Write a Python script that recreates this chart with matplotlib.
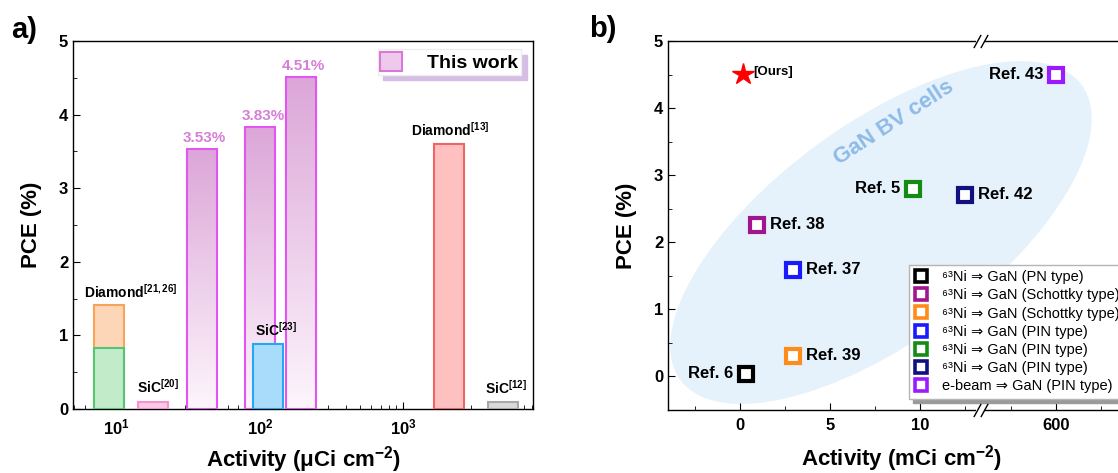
import numpy as np
import matplotlib
matplotlib.use("Agg")
import matplotlib.pyplot as plt
import matplotlib.transforms as mtransforms
from matplotlib.colors import LinearSegmentedColormap
from matplotlib.patches import Patch, Ellipse
from matplotlib.lines import Line2D
from matplotlib.ticker import FixedLocator, MultipleLocator, FuncFormatter

plt.rcParams['font.family'] = ['Liberation Sans', 'DejaVu Sans']
plt.rcParams['mathtext.fontset'] = 'custom'
plt.rcParams['mathtext.rm'] = 'Liberation Sans'
plt.rcParams['mathtext.bf'] = 'Liberation Sans:bold'
plt.rcParams['mathtext.it'] = 'Liberation Sans:italic'
plt.rcParams['mathtext.fallback'] = 'stixsans'
plt.rcParams['axes.linewidth'] = 1.0

#---------------------------------------------- Panel a data (uCi cm^-2, %) --------------------------------------------
work_act = [39.4, 100.7, 193.6]
work_pce = [3.53, 3.83, 4.51]

ref_act = [8.8, 8.8, 17.9, 114, 2100, 5000]
ref_pce = [1.41, 0.83, 0.10, 0.88, 3.60, 0.09]
ref_text = [r'Diamond$^{\mathbf{[21,26]}}$', '', r'SiC$^{\mathbf{[20]}}$', r'SiC$^{\mathbf{[23]}}$',
            r'Diamond$^{\mathbf{[13]}}$', r'SiC$^{\mathbf{[12]}}$']
ref_face = ['#fdd6b8', '#c2ecc9', '#fbc9e9', '#a9dcfb', '#ffc0c0', '#d9d9d9']
ref_edge = ['#f7a45a', '#55c575', '#f394cc', '#22a9f2', '#f26464', '#a8a8a8']
ref_txt_off = [(16, 3), (0, 0), (4, 4), (6, 4), (1, 4), (2, 4)]

a_yticks = [0, 1, 2, 3, 4, 5]

#---------------------------------------------- Panel b data (mCi cm^-2, %) --------------------------------------------
b_names = ['Ref. 6', 'Ref. 38', 'Ref. 39', 'Ref. 37', 'Ref. 5', 'Ref. 42', 'Ref. 43']
b_act = [0.34, 0.95, 2.96, 2.96, 9.6, 12.5, 600]
b_pce = [0.04, 2.26, 0.31, 1.59, 2.80, 2.71, 4.50]
b_legend = ['⁶³Ni ⇒ GaN (PN type)', '⁶³Ni ⇒ GaN (Schottky type)', '⁶³Ni ⇒ GaN (Schottky type)',
            '⁶³Ni ⇒ GaN (PIN type)', '⁶³Ni ⇒ GaN (PIN type)', '⁶³Ni ⇒ GaN (PIN type)',
            'e-beam ⇒ GaN (PIN type)']
b_colors = ['#000000', '#a0168f', '#ff8c1a', '#1a1aff', '#148c14', '#10107f', '#9b1bff']
b_left = [True, False, False, False, True, False, True]

ours_act = 0.17
ours_pce = 4.51

b_xticks = [0, 5, 10, 600]
b_xminor = [-2.5, 2.5, 7.5, 12.5, 597.5, 602.5]
b_yticks = [0, 1, 2, 3, 4, 5]

# broken x axis of panel b: values between B1 and B2 are cut out
B1, B2 = 13.33, 595.8


def fwd(x):
    x = np.asarray(x, dtype=float)
    return np.where(x <= B1, x, np.where(x >= B2, x - (B2 - B1), B1))


def inv(u):
    u = np.asarray(u, dtype=float)
    return np.where(u <= B1, u, u + (B2 - B1))


#------------------------------------------------------ Figure ---------------------------------------------------------
W, H = 1118, 473
fig = plt.figure(figsize=(W / 100, H / 100), dpi=100)
axA = fig.add_axes([73 / W, 64 / H, 460 / W, 368 / H])
axB = fig.add_axes([668 / W, 63 / H, 467 / W, 369 / H])

fig.text(24 / W, 1 - 30 / H, 'a)', fontsize=21, fontweight='bold', ha='center', va='center')
fig.text(603 / W, 1 - 29 / H, 'b)', fontsize=21, fontweight='bold', ha='center', va='center')

#------------------------------------------------------ Panel a --------------------------------------------------------
axA.set_xscale('log')
half = 10 ** 0.105  # half bar width in decades

grad = np.linspace(0, 1, 256).reshape(-1, 1)
cmap_work = LinearSegmentedColormap.from_list('work', ['#fdf5fc', '#dca6d8'])
for x, h in zip(work_act, work_pce):
    x0, x1 = x / half, x * half
    axA.imshow(grad, extent=[x0, x1, 0, h], origin='lower', cmap=cmap_work, aspect='auto', zorder=2)
    axA.bar(x0, h, width=x1 - x0, align='edge', facecolor='none', edgecolor='#e354f2', lw=1.5, zorder=3)
    axA.annotate(f'{h:.2f}%', (x, h), xytext=(2, 8), textcoords='offset points', ha='center', va='center',
                 fontsize=11, color='#d77ed6', fontweight='bold')

for x, h, t, fc, ec, off in zip(ref_act, ref_pce, ref_text, ref_face, ref_edge, ref_txt_off):
    x0, x1 = x / half, x * half
    axA.bar(x0, h, width=x1 - x0, align='edge', facecolor=fc, edgecolor=ec, lw=1.5, zorder=4)
    if t:
        axA.annotate(t, (x, h), xytext=off, textcoords='offset points', ha='center', va='bottom',
                     fontsize=10, fontweight='bold')

axA.set_xlim(4.95, 8100)
axA.set_ylim(0, 5)
axA.set_yticks(a_yticks, labels=[str(v) for v in a_yticks], fontsize=12, fontweight='bold')
axA.yaxis.set_minor_locator(MultipleLocator(0.5))
axA.xaxis.set_major_formatter(FuncFormatter(lambda v, p: r'$\mathbf{10^{%d}}$' % round(np.log10(v))))
axA.tick_params(axis='x', labelsize=12, pad=6)
axA.tick_params(which='both', direction='in')
axA.tick_params(which='major', length=5)
axA.tick_params(which='minor', length=3)
axA.set_xlabel(r'Activity (μCi cm$^{\mathbf{-2}}$)', fontsize=16, fontweight='bold', labelpad=5)
axA.set_ylabel('PCE (%)', fontsize=16, fontweight='bold', labelpad=12)

legA = axA.legend(handles=[Patch(facecolor='#efc9ec', edgecolor='#d878d8', lw=1.5)], labels=['This work'],
                  loc='upper right', bbox_to_anchor=(521 / W, 1 - 49 / H), bbox_transform=fig.transFigure,
                  prop={'weight': 'bold', 'size': 14}, fancybox=False, edgecolor='#eeeeee', framealpha=1,
                  shadow={'ox': 4, 'oy': -4, 'color': '#d6bde4', 'alpha': 1},
                  handlelength=1.1, handleheight=1.1, handletextpad=1.3, borderpad=0.15, borderaxespad=0)

#------------------------------------------------------ Panel b --------------------------------------------------------
axB.set_xscale('function', functions=(fwd, inv))
axB.set_xlim(-4, 604.4)
axB.set_ylim(-0.5, 5)

# highlighted region, drawn in axes pixel units
pos = axB.get_position()
pw, ph = pos.width * W, pos.height * H
trans_px = mtransforms.Affine2D().scale(1 / pw, 1 / ph) + axB.transAxes
axB.add_patch(Ellipse((213, 177.5), 498, 217, angle=36.3, transform=trans_px, facecolor='#e5f1fb',
                      edgecolor='none', zorder=0))
axB.text(226, 287, 'GaN BV cells', transform=trans_px, rotation=33, ha='center', va='center',
         fontsize=16, fontweight='bold', color='#8dbbe8', zorder=1)

for x, y, name, c, left in zip(b_act, b_pce, b_names, b_colors, b_left):
    axB.plot(x, y, marker='s', ls='none', ms=10, mfc='white', mec=c, mew=3, zorder=5)
    axB.annotate(name, (x, y), xytext=(-9 if left else 9, 0), textcoords='offset points',
                 ha='right' if left else 'left', va='center', fontsize=12, fontweight='bold', zorder=6)

axB.plot(ours_act, ours_pce, marker='*', ls='none', ms=16, color='red', mec='red', zorder=5)
axB.annotate('[Ours]', (ours_act, ours_pce), xytext=(7, 1), textcoords='offset points', ha='left', va='center',
             fontsize=9.5, fontweight='bold')

axB.xaxis.set_major_locator(FixedLocator(b_xticks))
axB.xaxis.set_minor_locator(FixedLocator(b_xminor))
axB.set_xticks(b_xticks, labels=[str(v) for v in b_xticks], fontsize=12, fontweight='bold')
axB.set_yticks(b_yticks, labels=[str(v) for v in b_yticks], fontsize=12, fontweight='bold')
axB.yaxis.set_minor_locator(MultipleLocator(0.5))
axB.tick_params(axis='x', pad=6)
axB.tick_params(which='both', direction='in')
axB.tick_params(which='major', length=5)
axB.tick_params(which='minor', length=3)
axB.set_xlabel(r'Activity (mCi cm$^{\mathbf{-2}}$)', fontsize=16, fontweight='bold', labelpad=7)
axB.set_ylabel('PCE (%)', fontsize=16, fontweight='bold', labelpad=12)

# break marks "//" on the top and bottom spines
slash = [(-0.55, -1), (0.55, 1)]
xt = axB.get_xaxis_transform()
axB.plot([B1, B1], [0, 1], transform=xt, marker='_', ms=5.5, mew=3, color='white', ls='none',
         clip_on=False, zorder=10)
for dx in (-3.5, 3.5):
    t = mtransforms.offset_copy(xt, fig, x=dx, y=0, units='dots')
    axB.plot([B1, B1], [0, 1], transform=t, marker=slash, ms=9.5, mew=1.0, color='black', ls='none',
             clip_on=False, zorder=11)

handles = [Line2D([], [], marker='s', ls='none', ms=8.5, mfc='white', mec=c, mew=2.6) for c in b_colors]
axB.legend(handles, b_legend, loc='upper left', bbox_to_anchor=(909 / W, 1 - 265 / H),
           bbox_transform=fig.transFigure, fontsize=10.5, fancybox=False, edgecolor='#b5b5b5', framealpha=1,
           shadow={'ox': 3, 'oy': -3, 'color': '#9a9a9a', 'alpha': 1},
           handlelength=1.0, handletextpad=0.9, labelspacing=0.29, borderpad=0.35, borderaxespad=0)

fig.savefig('out.png', dpi=100)
